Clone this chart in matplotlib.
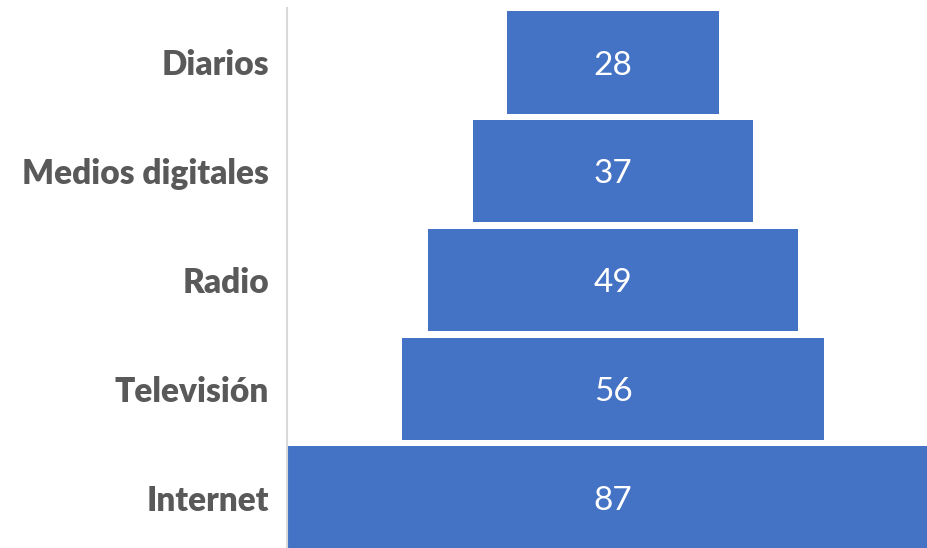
import matplotlib.pyplot as plt

categorias = ['Diarios', 'Medios digitales', 'Radio', 'Televisión', 'Internet']
valores = [28, 37, 49, 56, 87]

plt.rcParams['font.family'] = ['Lato', 'DejaVu Sans']

fig = plt.figure(figsize=(9.27, 5.48), dpi=100)
ax = fig.add_axes([287 / 927, -4 / 548, 640 / 927, 544 / 548])

pos = range(len(categorias))
izq = [-v / 2 for v in valores]
ax.barh(pos, valores, left=izq, height=0.94, color='#4472C4')

for i, v in enumerate(valores):
    ax.text(0, i + 0.03, str(v), ha='center', va='center', color='white', fontsize=24)

ax.set_xlim(-43.2, 41.6)
ax.set_ylim(4.5, -0.5)
ax.set_yticks(list(pos))
ax.set_yticklabels(categorias, fontsize=24, fontweight='heavy', color='#595959')
ax.tick_params(axis='y', length=0, pad=13)
ax.set_xticks([])
for s in ['top', 'right', 'bottom']:
    ax.spines[s].set_visible(False)
ax.spines['left'].set_color('#D9D9D9')
ax.spines['left'].set_linewidth(1.5)

fig.savefig('out.png', dpi=100)
